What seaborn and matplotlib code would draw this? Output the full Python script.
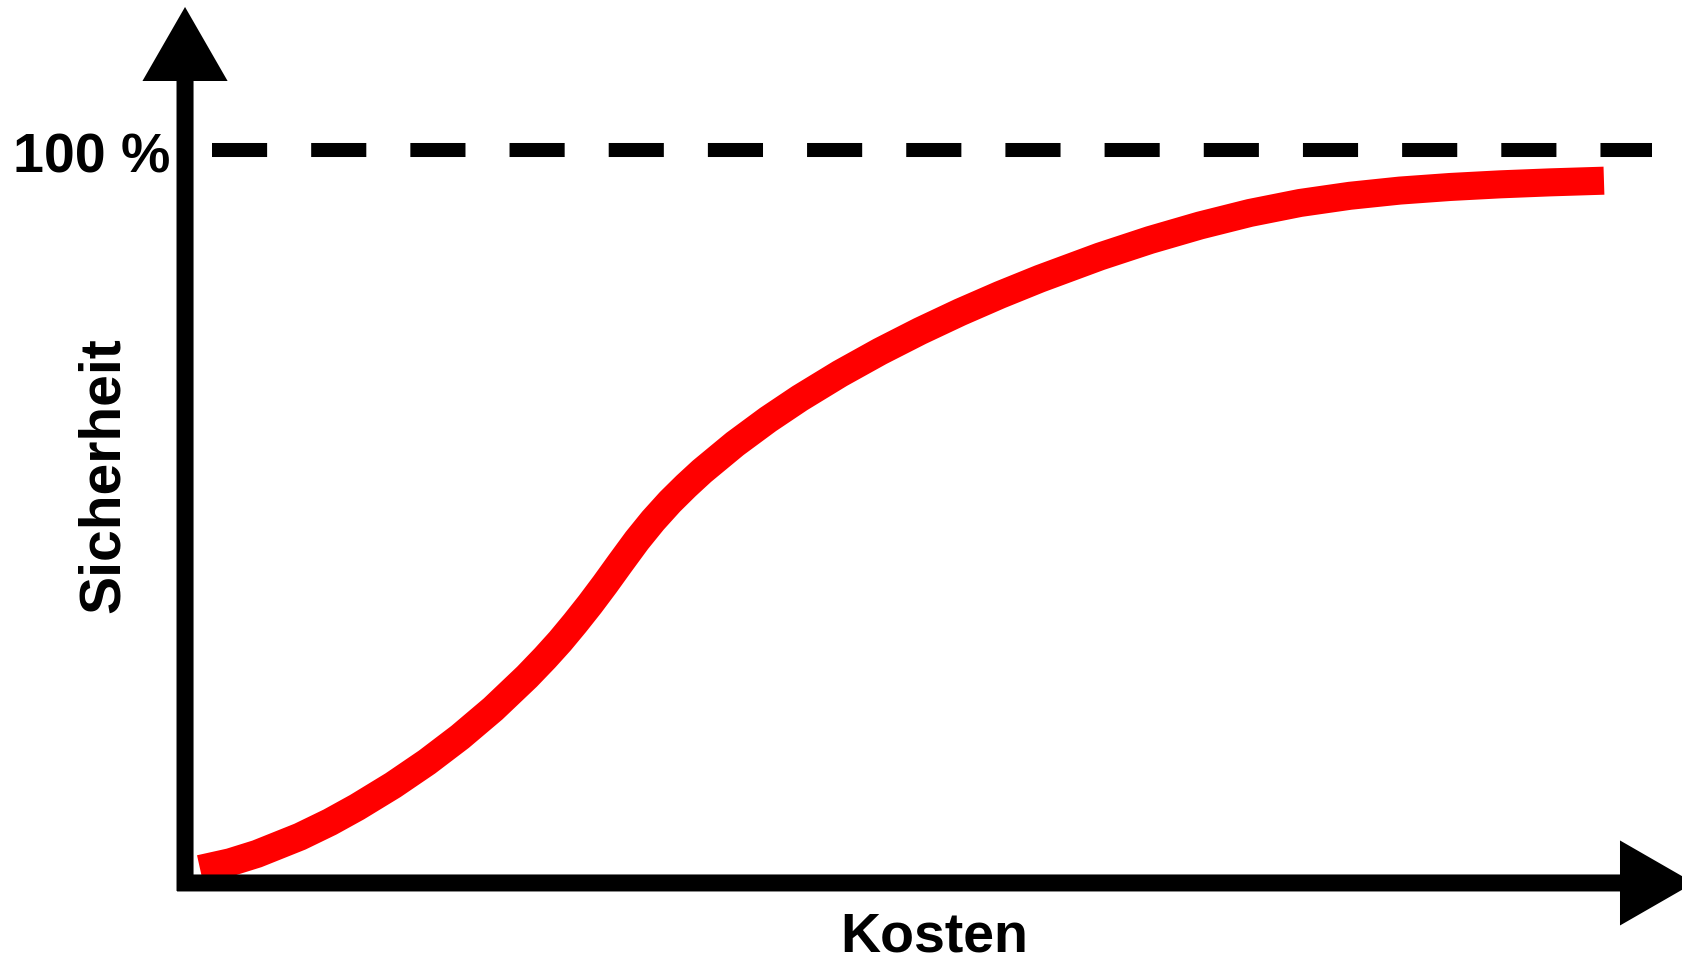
import matplotlib
matplotlib.use("Agg")
import matplotlib.pyplot as plt
import seaborn as sns
import pandas as pd

# curve: Kosten (0..100) vs. Sicherheit (%)
kosten = [1.06, 3.17, 5.07, 8.10, 10.22, 12.12, 14.66, 17.05, 19.38, 21.71,
          24.10, 25.37, 26.43, 27.48, 28.54, 29.60, 30.66, 31.85, 32.98, 34.18,
          35.31, 36.43, 38.76, 41.09, 43.34, 46.16, 48.98, 51.80, 54.62, 57.43,
          60.25, 64.48, 68.01, 71.53, 75.05, 78.58, 82.10, 85.62, 89.15, 92.67,
          96.19, 100.0]
sicherheit = [1.91, 2.82, 3.97, 6.32, 8.31, 10.34, 13.34, 16.49, 19.92, 23.74,
              28.14, 30.70, 32.97, 35.42, 38.01, 40.75, 43.60, 46.74, 49.44, 52.01,
              54.17, 56.17, 59.90, 63.23, 66.15, 69.48, 72.51, 75.29, 77.86, 80.23,
              82.44, 85.47, 87.72, 89.70, 91.41, 92.77, 93.75, 94.46, 94.95, 95.31,
              95.58, 95.81]
max_level = 100
x_label = "Kosten"
y_label = "Sicherheit"
max_label = "100 %"

df = pd.DataFrame({"Kosten": kosten, "Sicherheit": sicherheit})

sns.set_theme(style="white")
plt.rcParams["font.family"] = ["Liberation Sans", "DejaVu Sans"]
plt.rcParams["text.color"] = "black"

fig = plt.figure(figsize=(16.82, 9.57), dpi=100)
ax = fig.add_axes([0, 0, 1, 1])
ax.set_xlim(-13.04, 105.5)
ax.set_ylim(-10.1, 120.46)
ax.axis("off")

# red curve
sns.lineplot(data=df, x="Kosten", y="Sicherheit", ax=ax, color="#ff0000",
             lw=20.2, sort=False, estimator=None, solid_capstyle="butt",
             solid_joinstyle="round", zorder=2)

# 100 % reference line
ax.axhline(max_level, xmin=212 / 1682, xmax=1652 / 1682, color="black",
           lw=10.1, linestyle=(0, (3.93, 3.14)), zorder=1)

# axes as arrows
ax.arrow(0, -1.09, 0, 120.6, width=1.2, head_width=6.0, head_length=10.1,
         length_includes_head=True, fc="black", ec="none", zorder=3)
ax.arrow(-0.56, 0, 106.9, 0, width=2.32, head_width=11.6, head_length=5.21,
         length_includes_head=True, fc="black", ec="none", zorder=3)

# labels
ax.text(-6.59, 96.86, max_label, fontsize=40, fontweight="bold",
        color="black", ha="center", va="baseline")
ax.text(52.82, -9.41, x_label, fontsize=40, fontweight="bold",
        color="black", ha="center", va="baseline")
ax.text(-4.65, 55.6, y_label, fontsize=41, fontweight="bold", rotation=90,
        color="black", rotation_mode="anchor", ha="center", va="baseline")

plt.savefig("out.png", dpi=100, facecolor="white")
